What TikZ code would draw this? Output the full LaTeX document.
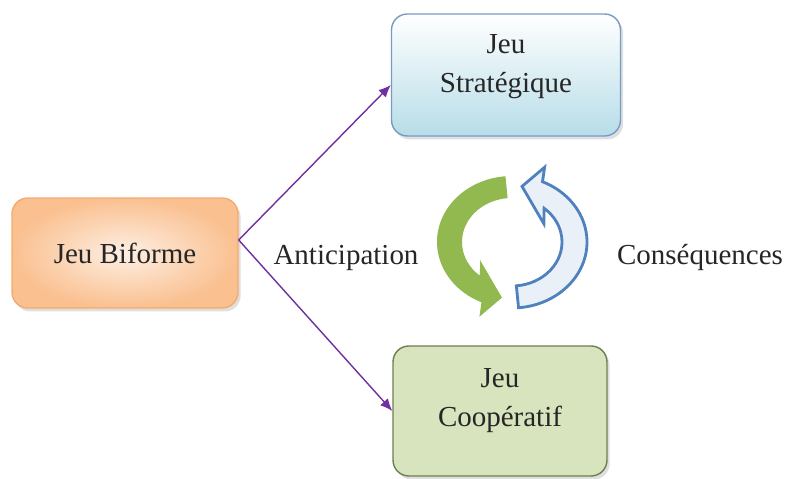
\documentclass[tikz,border=0pt]{standalone}
\usepackage{fontspec}
\setmainfont{Liberation Serif}
\usetikzlibrary{arrows.meta,shadows}

\definecolor{textgris}{RGB}{38,38,38}
\definecolor{violet}{RGB}{112,48,160}
\definecolor{bleubord}{RGB}{120,155,198}
\definecolor{bleufond}{RGB}{183,221,232}
\definecolor{orangebord}{RGB}{245,170,110}
\definecolor{orangefond}{RGB}{250,192,144}
\definecolor{vertbord}{RGB}{110,128,80}
\definecolor{vertfond}{RGB}{215,228,189}
\definecolor{vertfleche}{RGB}{146,184,80}
\definecolor{bleufleche}{RGB}{79,129,189}

\begin{document}
\begin{tikzpicture}[
    x=0.02cm, y=0.02cm,
    font=\fontsize{16.5}{22}\selectfont, text=textgris,
    % Styles des boites
    jeu/.style={rounded corners=9pt, align=center, thick,
        drop shadow={opacity=0.25, shadow xshift=1.5pt, shadow yshift=-2pt}},
    strat/.style={jeu, draw=bleubord, top color=white, bottom color=bleufond,
        minimum width=4.58cm, minimum height=2.44cm, text depth=13pt},
    bif/.style={jeu, draw=orangebord, inner color=orangefond!25, outer color=orangefond,
        minimum width=4.52cm, minimum height=2.2cm},
    coop/.style={jeu, draw=vertbord, fill=vertfond,
        minimum width=4.28cm, minimum height=2.6cm, text depth=15pt},
    % Styles des fleches
    lien/.style={violet, line width=0.8pt, -{Latex[length=7pt, width=6pt]}},
    cycleA/.style={fill=vertfleche},
    cycleB/.style={draw=bleufleche, line width=1.6pt, fill=bleufleche!12}
]
\useasboundingbox (0,0) rectangle (785,479);

% ==========================================
% LES TROIS JEUX
% ==========================================
\node[strat] (strat) at (506,404) {Jeu\\Stratégique};
\node[bif]   (bif)   at (125,226) {Jeu Biforme};
\node[coop]  (coop)  at (500,68)  {Jeu\\Coopératif};

% Liens depuis le jeu biforme
\draw[lien] ([yshift=0.26cm]bif.east) -- ([yshift=-0.2cm]strat.west);
\draw[lien] ([yshift=0.26cm]bif.east) -- (coop.west);

% Textes du cycle
\node (antic) at (346,221) {Anticipation};
\node (conseq) at (700,221) {Conséquences};

% ==========================================
% CYCLE CENTRAL (deux fleches courbes)
% ==========================================
\begin{scope}[shift={(512,237)}, yscale=0.88]
    % Fleche verte (anticipation)
    \fill[cycleA] (95:75) arc[start angle=95, end angle=246, radius=75]
        -- (249:91) -- (261:64) -- (213:38) -- (230:50)
        arc[start angle=230, end angle=95, radius=50] -- cycle;
    % Fleche bleue (consequences)
    \filldraw[cycleB] (275:75) arc[start angle=275, end angle=426, radius=75]
        -- (429:91) -- (441:64) -- (393:38) -- (410:50)
        arc[start angle=410, end angle=275, radius=50] -- cycle;
\end{scope}

\end{tikzpicture}
\end{document}
